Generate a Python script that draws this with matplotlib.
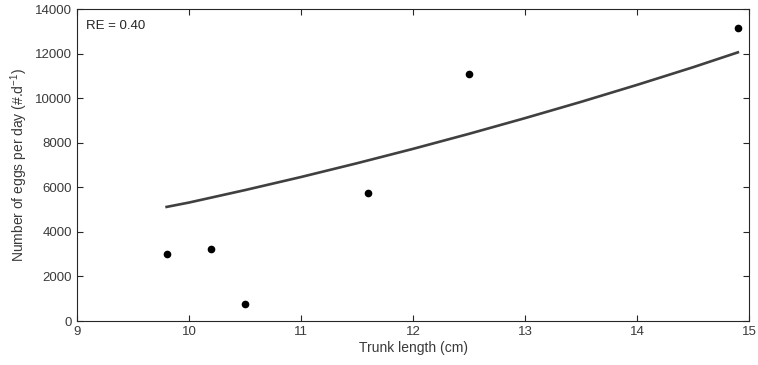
import numpy as np
import matplotlib.pyplot as plt

plt.rcParams['font.family'] = ['Liberation Sans', 'DejaVu Sans']
plt.rcParams['mathtext.fontset'] = 'custom'
plt.rcParams['mathtext.rm'] = 'Liberation Sans'

# observed points
trunk_len = [9.8, 10.2, 10.5, 11.6, 12.5, 14.9]
eggs = [3000, 3250, 770, 5750, 11070, 13160]

# fitted curve
fit_x = [9.8, 10.0, 10.5, 11.0, 11.5, 12.0, 12.5, 13.0, 13.5, 14.0, 14.5, 14.9]
fit_y = [5120, 5316, 5875, 6462, 7080, 7725, 8400, 9104, 9834, 10596, 11387, 12055]

grey = '#262626'

fig = plt.figure(figsize=(7.58, 3.65), dpi=100)
ax = fig.add_axes([0.1016, 0.1205, 0.8866, 0.8548])

ax.plot(fit_x, fit_y, color='#404040', lw=1.9)
ax.plot(trunk_len, eggs, 'o', color='k', ms=4.5)

ax.set_xlim(9, 15)
ax.set_ylim(0, 14000)
ax.set_xticks(np.arange(9, 16, 1))
ax.set_yticks(np.arange(0, 14001, 2000))

ax.tick_params(direction='in', top=True, right=True, length=4, width=0.8,
               colors=grey, labelsize=9.5, labelcolor='#3a3a3a')
for s in ax.spines.values():
    s.set_color(grey)
    s.set_linewidth(0.8)

ax.set_xlabel('Trunk length (cm)', fontsize=10, color='#3a3a3a', labelpad=2)
ax.set_ylabel('Number of eggs per day (#.d$^{-1}$)', fontsize=10, color='#3a3a3a', labelpad=4)
ax.text(0.014, 0.965, 'RE = 0.40', transform=ax.transAxes, ha='left', va='top',
        fontsize=9.5, color=grey)

fig.savefig('out.png', dpi=100)
